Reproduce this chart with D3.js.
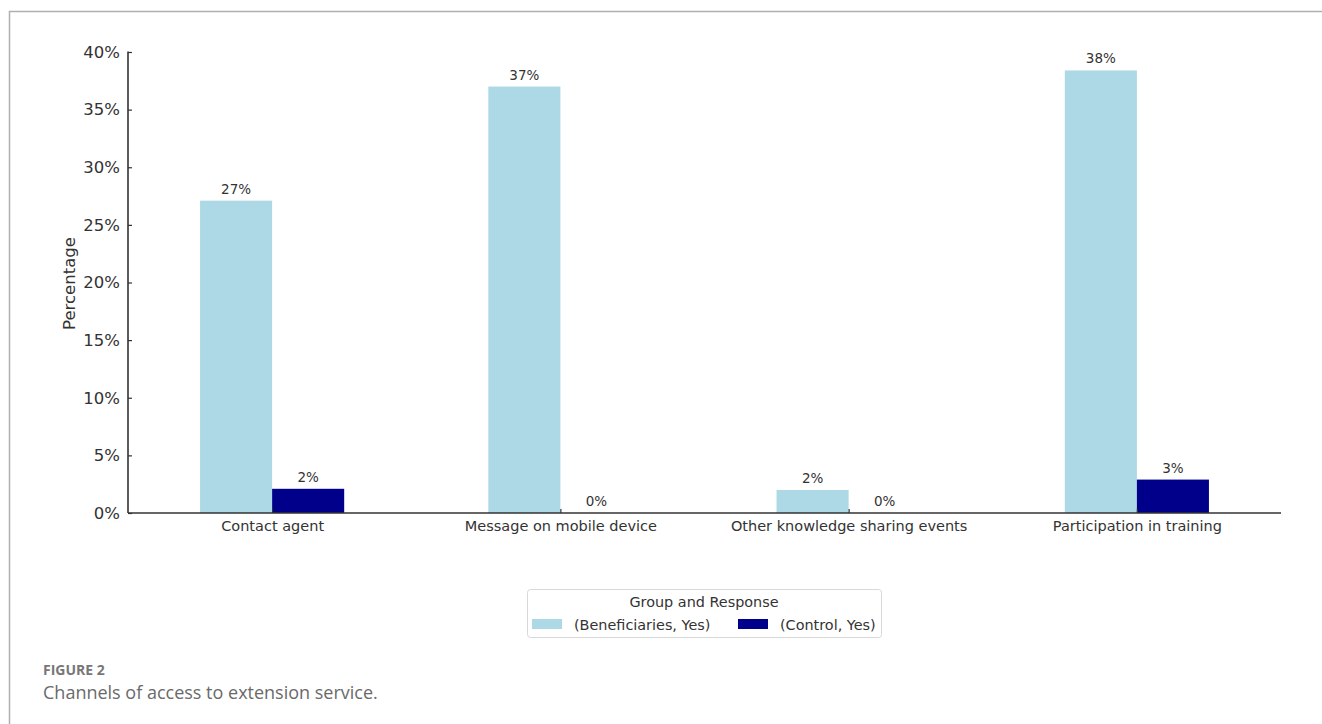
<!DOCTYPE html>
<html>
<head>
<meta charset="utf-8">
<script src="https://cdn.jsdelivr.net/npm/d3@7"></script>
<style>
  html, body { margin: 0; padding: 0; background: #fff; }
  svg { display: block; }
</style>
</head>
<body>
<svg id="chart" width="1322" height="724"></svg>
<script>
// Channels of access to extension service, share answering "Yes"
const categories = ["Contact agent", "Message on mobile device", "Other knowledge sharing events", "Participation in training"];
const seriesNames = ["(Beneficiaries, Yes)", "(Control, Yes)"];
const beneficiaries = [27.1, 37.0, 2.0, 38.4];
const control = [2.1, 0.0, 0.0, 2.9];
const yTicks = [0, 5, 10, 15, 20, 25, 30, 35, 40];
const colors = ["#add8e6", "#00008b"];

const svg = d3.select("#chart");
const font = "DejaVu Sans, sans-serif";
const ink = "#333";

// outer figure frame (top and left rules)
svg.append("line").attr("x1", 9).attr("x2", 1322).attr("y1", 11.5).attr("y2", 11.5)
  .attr("stroke", "#b0b0b0").attr("stroke-width", 1.5);
svg.append("line").attr("x1", 9.5).attr("x2", 9.5).attr("y1", 11).attr("y2", 724)
  .attr("stroke", "#b0b0b0").attr("stroke-width", 1.5);

const plot = { left: 128, right: 1281, top: 52, bottom: 513 };

const x = d3.scaleLinear().domain([-0.5, categories.length - 0.5]).range([plot.left, plot.right]);
const y = d3.scaleLinear().domain([0, 40]).range([plot.bottom, plot.top]);
const bandW = x(0.25) - x(0);

const data = categories.map((c, i) => ({ cat: c, i, vals: [beneficiaries[i], control[i]] }));

const g = svg.append("g");

// bars
data.forEach(d => {
  d.vals.forEach((v, s) => {
    const x0 = x(d.i - 0.25 + s * 0.25);
    g.append("rect")
      .attr("x", x0).attr("width", bandW)
      .attr("y", y(v)).attr("height", y(0) - y(v))
      .attr("fill", colors[s]);
    g.append("text")
      .attr("x", x0 + bandW / 2).attr("y", y(v) - 7)
      .attr("text-anchor", "middle")
      .attr("font-family", font).attr("font-size", 13.5)
      .attr("fill", ink)
      .text(Math.round(v) + "%");
  });
});

// y axis
const yAxis = d3.axisLeft(y).tickValues(yTicks).tickSize(-4).tickPadding(8).tickFormat(d => d + "%");
const ya = svg.append("g").attr("transform", `translate(${plot.left},0)`).call(yAxis);
ya.select(".domain").attr("stroke", ink).attr("stroke-width", 1.6).attr("d", `M0,${plot.top - 0.5}V${plot.bottom}`);
ya.selectAll(".tick line").attr("stroke", ink).attr("stroke-width", 1.2);
ya.selectAll(".tick text").attr("font-family", font).attr("font-size", 16.5).attr("fill", ink);

// x axis
const xAxis = d3.axisBottom(x).tickValues(d3.range(categories.length)).tickSize(-4).tickPadding(8)
  .tickFormat(i => categories[i]);
const xa = svg.append("g").attr("transform", `translate(0,${plot.bottom})`).call(xAxis);
xa.select(".domain").attr("stroke", ink).attr("stroke-width", 1.6).attr("d", `M${plot.left},0H${plot.right}`);
xa.selectAll(".tick line").attr("stroke", ink).attr("stroke-width", 1.2);
xa.selectAll(".tick text").attr("font-family", font).attr("font-size", 14.5).attr("fill", ink);

// y axis title
svg.append("text")
  .attr("transform", `translate(75,${(plot.top + plot.bottom) / 2 + 1}) rotate(-90)`)
  .attr("text-anchor", "middle")
  .attr("font-family", font).attr("font-size", 16.5).attr("fill", ink)
  .text("Percentage");

// legend
const lg = svg.append("g");
lg.append("rect").attr("x", 527.5).attr("y", 589.5).attr("width", 354).attr("height", 48)
  .attr("rx", 3).attr("fill", "#fff").attr("stroke", "#d8d8d8");
lg.append("text").attr("x", 704).attr("y", 607).attr("text-anchor", "middle")
  .attr("font-family", font).attr("font-size", 14.4).attr("fill", ink).text("Group and Response");
const entries = [
  { px: 532, tx: 574 },
  { px: 738, tx: 780 }
];
seriesNames.forEach((name, s) => {
  lg.append("rect").attr("x", entries[s].px).attr("y", 619).attr("width", 30).attr("height", 10)
    .attr("fill", colors[s]);
  lg.append("text").attr("x", entries[s].tx).attr("y", 629.5)
    .attr("font-family", font).attr("font-size", 14.4).attr("fill", ink).text(name);
});

// caption
svg.append("text").attr("x", 43).attr("y", 675)
  .attr("font-family", "'Open Sans', Lato, sans-serif").attr("font-weight", 700)
  .attr("font-size", 14).attr("fill", "#777").text("FIGURE 2");
svg.append("text").attr("x", 43).attr("y", 699)
  .attr("font-family", "'Open Sans', Lato, sans-serif")
  .attr("font-size", 18).attr("fill", "#6a6a6a").text("Channels of access to extension service.");
</script>
</body>
</html>
